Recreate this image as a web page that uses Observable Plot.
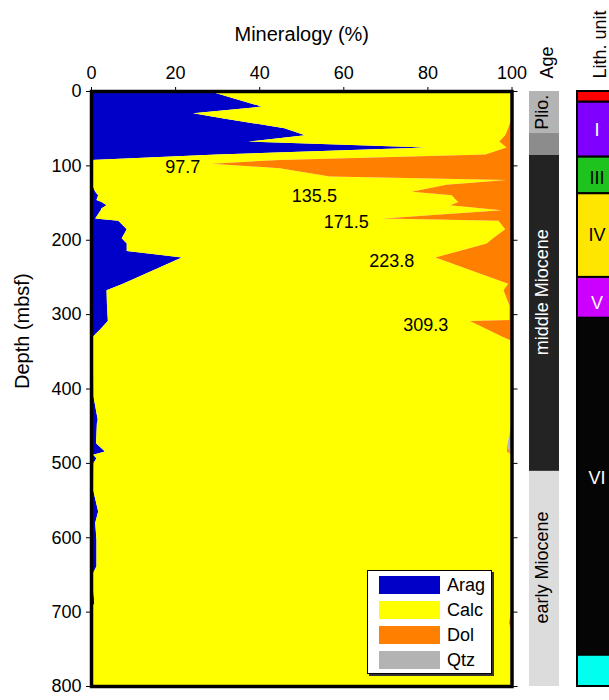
<!DOCTYPE html>
<html>
<head>
<meta charset="utf-8">
<script src="https://cdn.jsdelivr.net/npm/d3@7"></script>
<script src="https://cdn.jsdelivr.net/npm/@observablehq/plot@0.6"></script>
<style>
  html, body { margin: 0; padding: 0; background: white; }
  #wrap { position: relative; width: 609px; height: 700px; overflow: hidden; font-family: "Liberation Sans", Arial, Helvetica, sans-serif; }
  #wrap > svg { position: absolute; top: 0; }
  #legend { position: absolute; left: 367px; top: 570px; width: 125px; height: 104px; background: white;
            border: 1px solid black; box-shadow: 2px 2px 0 #333; box-sizing: border-box; }
  #legend .row { position: absolute; left: 11px; height: 18px; display: flex; align-items: center; }
  #legend .sw { width: 61px; height: 18px; margin-right: 7px; }
  #legend .lab { font-size: 18px; line-height: 18px; }
</style>
</head>
<body>
<div id="wrap"></div>
<script>
// Sample depths (mbsf) and mineral percentages
const depth = [0, 21, 30, 37, 50, 59.5, 68, 76, 85.5, 92.7, 97.7, 104, 115, 119.6, 126, 135.5, 140.2, 146.5, 149.2, 153.5,
  157.7, 160.4, 171.5, 174.3, 186, 198, 205, 215, 223.8, 259, 268, 288, 308, 309.3, 321, 330, 335, 366, 411, 442,
  447, 473.5, 484.8, 489, 493.7, 500, 536, 565.4, 581, 603.5, 639, 648, 650, 688.6, 697, 715, 727, 800];
const arag = [28, 40.6, 24.3, 31.5, 46, 50.9, 37.4, 79.8, 30, 0, 0, 0, 0, 0, 0.3, 1.0, 1.7, 1.3, 2.5, 3.7,
  2.5, 2.3, 1.0, 6.5, 8.5, 7.3, 8.5, 8.5, 21.6, 7.6, 3.7, 3.8, 4.0, 4.0, 2.1, 0.5, 0.4, 0.5, 0.6, 1.6,
  1.4, 1.2, 3.3, 0.5, 1.3, 0.6, 0.5, 1.7, 1.0, 1.3, 1.3, 0.5, 0.2, 0.8, 0, 0, 0, 0];
const calc = [72, 59.4, 75.7, 68.5, 53.2, 47.6, 59.7, 19, 63.8, 44.9, 28.7, 44.9, 56.8, 98.8, 84.2, 75.3, 84.1, 85.5, 84.9, 81.7,
  90.1, 95.4, 68.5, 90.4, 90, 88.3, 85.6, 79.1, 60.3, 91.6, 94.4, 95.7, 95.5, 86.1, 92.3, 97.2, 99.3, 99.5, 99.4, 98.4,
  98.6, 97.9, 95.6, 99.5, 98.7, 99.4, 99.5, 98.3, 99, 98.7, 98.7, 99.5, 99.8, 99.2, 100, 99.4, 100, 100];
const dol = [0, 0, 0, 0, 0.8, 1.5, 2.9, 1.2, 6.2, 55.1, 71.3, 55.1, 43.2, 1.2, 15.5, 23.7, 14.2, 13.2, 12.6, 14.6,
  7.4, 2.3, 30.5, 3.1, 1.5, 4.4, 5.9, 12.4, 18.1, 0.8, 1.9, 0.5, 0.5, 9.9, 5.6, 2.3, 0.3, 0, 0, 0,
  0, 0, 0.5, 0, 0, 0, 0, 0, 0, 0, 0, 0, 0, 0, 0, 0.6, 0, 0];
const qtz = [0, 0, 0, 0, 0, 0, 0, 0, 0, 0, 0, 0, 0, 0, 0, 0, 0, 0, 0, 0,
  0, 0, 0, 0, 0, 0, 0, 0, 0, 0, 0, 0, 0, 0, 0, 0, 0, 0, 0, 0,
  0, 0.9, 0.6, 0, 0, 0, 0, 0, 0, 0, 0, 0, 0, 0, 0, 0, 0, 0];

const minerals = ["Arag", "Calc", "Dol", "Qtz"];
const mineralColors = ["#0000c8", "#ffff00", "#ff8000", "#b3b3b3"];

// Dolomite peaks annotated with their depth
const peakDepths = [97.7, 135.5, 171.5, 223.8, 309.3];
const peakLabelX = [21.7, 53, 60.6, 71.4, 79.5];

const xTicks = [0, 20, 40, 60, 80, 100];
const yTicks = [0, 100, 200, 300, 400, 500, 600, 700, 800];

// Age column
const ageNames = ["Plio.", "", "middle Miocene", "early Miocene"];
const ageTop = [0, 56.5, 86, 510.8];
const ageBottom = [56.5, 86, 510.8, 800];
const ageColors = ["#b4b4b4", "#8c8c8c", "#232323", "#dcdcdc"];
const ageTextColors = ["black", "black", "white", "black"];
const ageLabelDepth = [28, 71, 270, 640];

// Lithologic units
const lithNames = ["", "I", "III", "IV", "V", "VI", ""];
const lithTop = [0, 14.4, 88.3, 137.5, 250, 305, 758];
const lithBottom = [14.4, 88.3, 137.5, 250, 305, 758, 800];
const lithColors = ["#ff0000", "#8000ff", "#1ec31e", "#ffe600", "#cc00ff", "#050505", "#00ffee"];
const lithTextColors = ["white", "white", "black", "black", "white", "white", "black"];
const lithLabelDepth = [7, 52.4, 117, 193.5, 285, 520, 779];

// Long-format rows for the stacked areas
const series = {Arag: arag, Calc: calc, Dol: dol, Qtz: qtz};
const rows = [];
for (const m of minerals) depth.forEach((d, i) => rows.push({depth: d, mineral: m, value: series[m][i]}));

const font = '"Liberation Sans", Arial, Helvetica, sans-serif';
const H = 700, MT = 91, MB = 14;

const main = Plot.plot({
  width: 520, height: H,
  marginTop: MT, marginBottom: MB, marginLeft: 91, marginRight: 8.5,
  style: {fontFamily: font, fontSize: "18px", background: "transparent", color: "black", overflow: "visible"},
  x: {domain: [0, 100], axis: null},
  y: {domain: [0, 800], reverse: true, axis: null},
  color: {domain: minerals, range: mineralColors},
  marks: [
    Plot.areaX(rows, {y: "depth", x: "value", fill: "mineral", order: minerals, curve: "linear", offset: null}),
    Plot.text(peakDepths, {x: (d, i) => peakLabelX[i], y: d => d, text: d => d.toFixed(1), dy: 3.5, fontSize: 18, fill: "black"}),
    Plot.axisX({anchor: "top", ticks: xTicks, tickSize: 5, tickPadding: 8, label: null, fontSize: 18}),
    Plot.axisY({anchor: "left", ticks: yTicks, tickSize: 5, tickPadding: 5, label: null, fontSize: 18}),
    Plot.axisY({anchor: "right", ticks: yTicks, tickSize: 5, tickFormat: () => "", label: null}),
    Plot.text(["Mineralogy (%)"], {frameAnchor: "top", dy: -51, lineAnchor: "bottom", fontSize: 20}),
    Plot.text(["Depth (mbsf)"], {frameAnchor: "left", dx: -69, rotate: -90, fontSize: 20}),
    Plot.frame({stroke: "black", strokeWidth: 3.5})
  ]
});
main.style.left = "0px";

const ageCol = Plot.plot({
  width: 50, height: H,
  marginTop: MT, marginBottom: MB, marginLeft: 9, marginRight: 11,
  style: {fontFamily: font, fontSize: "18px", background: "transparent", overflow: "visible"},
  x: {domain: [0, 1], axis: null},
  y: {domain: [0, 800], reverse: true, axis: null},
  marks: [
    Plot.rectY(ageNames, {x1: 0, x2: 1, y1: (d, i) => ageTop[i], y2: (d, i) => ageBottom[i], fill: (d, i) => ageColors[i]}),
    Plot.text(ageNames, {x: 0.5, y: (d, i) => ageLabelDepth[i], text: d => d, rotate: -90, dx: -2, fill: (d, i) => ageTextColors[i], fontSize: 18}),
    Plot.text(["Age"], {frameAnchor: "top", dy: -13, dx: -4, rotate: -90, textAnchor: "start", fontSize: 18})
  ]
});
ageCol.style.left = "520px";

const lithCol = Plot.plot({
  width: 50, height: H,
  marginTop: MT, marginBottom: MB, marginLeft: 7, marginRight: 4,
  style: {fontFamily: font, fontSize: "18px", background: "transparent", overflow: "visible"},
  x: {domain: [0, 1], axis: null},
  y: {domain: [0, 800], reverse: true, axis: null},
  marks: [
    Plot.rectY(lithNames, {x1: 0, x2: 1, y1: (d, i) => lithTop[i], y2: (d, i) => lithBottom[i], fill: (d, i) => lithColors[i], stroke: "black", strokeWidth: 2}),
    Plot.text(lithNames, {x: 0.5, y: (d, i) => lithLabelDepth[i], text: d => d, fill: (d, i) => lithTextColors[i], fontSize: 18}),
    Plot.text(["Lith. unit"], {frameAnchor: "top", dy: -13, dx: -4, rotate: -90, textAnchor: "start", fontSize: 18})
  ]
});
lithCol.style.left = "570px";

const wrap = document.getElementById("wrap");
wrap.append(main, ageCol, lithCol);

// Legend box inside the plot frame
const legend = document.createElement("div");
legend.id = "legend";
minerals.forEach((m, i) => {
  const row = document.createElement("div");
  row.className = "row";
  row.style.top = (5 + i * 25) + "px";
  row.innerHTML = `<div class="sw" style="background:${mineralColors[i]}"></div><span class="lab">${m}</span>`;
  legend.append(row);
});
wrap.append(legend);
</script>
</body>
</html>
